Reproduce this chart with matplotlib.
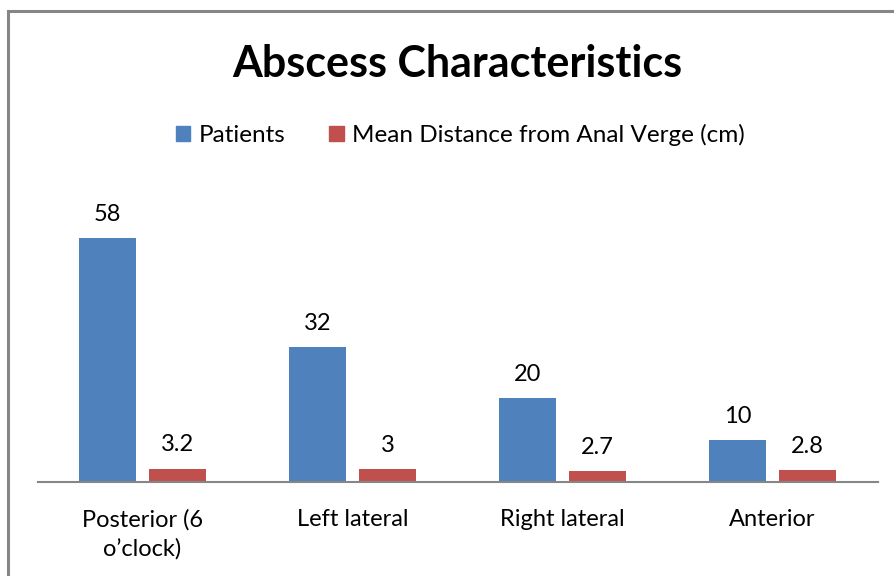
import matplotlib.pyplot as plt
from matplotlib.patches import Rectangle, Patch

categories = ['Posterior (6\no\u2019clock)', 'Left lateral', 'Right lateral', 'Anterior']
patients = [58, 32, 20, 10]
mean_distance = [3.2, 3, 2.7, 2.8]
series_names = ['Patients', 'Mean Distance from Anal Verge (cm)']

blue = '#4F81BD'
red = '#C0504D'

plt.rcParams['font.family'] = ['Lato', 'DejaVu Sans']

fig = plt.figure(figsize=(8.94, 5.76), dpi=100)
W, H = 894, 576

# chart border (left and top only visible)
fig.patches.append(Rectangle((7.5 / W, -0.1), 1.2, 1.1 - 11.5 / H,
                             transform=fig.transFigure, fill=False,
                             edgecolor='#868686', linewidth=2.2))

ax = fig.add_axes([37.5 / W, 1 - 482 / H, 840 / W, (482 - 187.5) / H])

x = range(len(categories))
off = 0.1667
wid = 0.267
b1 = ax.bar([i - off for i in x], patients, wid, color=blue)
b2 = ax.bar([i + off for i in x], mean_distance, wid, color=red)

for bars, vals in [(b1, patients), (b2, mean_distance)]:
    for bar, v in zip(bars, vals):
        ax.annotate(f'{v:g}', (bar.get_x() + bar.get_width() / 2, bar.get_height()),
                    xytext=(0, 17), textcoords='offset points',
                    ha='center', va='center', fontsize=17)

ax.set_xlim(-0.5, len(categories) - 0.5)
ax.set_ylim(0, 70)
ax.set_xticks(list(x))
ax.set_xticklabels(categories, fontsize=17, linespacing=1.42)
ax.tick_params(axis='x', length=0, pad=19.5)
ax.set_yticks([])
for s in ['top', 'right', 'left']:
    ax.spines[s].set_visible(False)
ax.spines['bottom'].set_color('#868686')
ax.spines['bottom'].set_linewidth(1.5)

fig.text(0.511, 1 - 64 / H, 'Abscess Characteristics', ha='center', va='center',
         fontsize=31, fontweight='bold')

handles = [Patch(color=blue), Patch(color=red)]
fig.legend(handles, series_names, loc='center', bbox_to_anchor=(0.515, 1 - 135 / H),
           ncol=2, frameon=False, fontsize=17.5, handlelength=0.6, handleheight=0.6,
           handletextpad=0.35, columnspacing=1.8)

fig.savefig('out.png', dpi=100)
